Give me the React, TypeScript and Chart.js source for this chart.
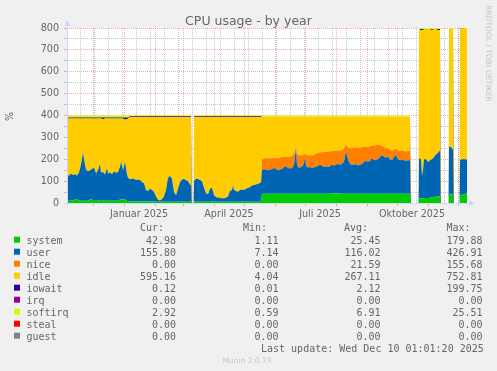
import React, { useEffect, useRef } from 'react';
import { Chart, registerables } from 'chart.js';

Chart.register(...registerables);

// x positions: days relative to 1 Jan 2025 (pairs of zero rows mark periods without data)
const days = [
  -57, -55, -53, -51, -49, -47, -45, -43, -41, -40, -38, -36, -34, -32, -30, -28, -26, -24, -23, -21, -19, -17, -16, -14, -12, -10, -8, -6, -4, -3, -1, 1, 3, 4,
  6, 8, 10, 12, 14, 16, 18, 20, 22, 24, 26, 28, 30,
  32, 34, 36, 38, 40, 42, 44, 46, 48, 50, 52, 54, 56, 58, 60, 62, 64, 66,
  67,
  67.5, 69.5,
  70, 72, 74, 76, 78, 80, 82, 84, 86, 88, 90, 92, 94, 96, 98, 100, 102, 104, 106, 108,
  109, 110, 112, 114, 116, 118, 120, 122, 124, 126, 128, 130, 132, 134, 136, 137,
  138, 140, 142, 144, 146, 148, 150, 152, 154, 156, 158, 160, 162, 164, 166, 168, 170,
  172, 173, 175, 177, 179, 181, 182,
  184, 186, 188, 190, 192, 194, 196, 198, 200, 202, 204, 206, 208, 210, 212, 214, 216, 218, 220, 222, 224, 226, 228, 230, 232, 234,
  236, 238, 240, 242, 244, 246, 248, 250, 252, 254, 256, 258, 260, 262, 264, 266, 268, 270, 272, 274, 276, 278, 280, 282, 284, 286,
  286.5, 294.5,
  295, 297, 298, 299, 300, 302, 304, 306, 308, 310, 312, 314, 316,
  316.5, 324.5,
  325, 327, 329,
  329.5, 335.5,
  336, 338, 340, 343,
];

const system = [
  10, 10, 10, 12, 16, 16, 10, 10, 10, 10, 10, 10, 16, 16, 10, 10, 10, 14, 14, 14, 10, 10, 10, 10, 10, 10, 10, 10, 16, 16, 16, 16, 10, 8,
  8, 8, 8, 7, 7, 7, 7, 7, 7, 7, 7, 7, 7,
  6, 6, 6, 6, 6, 6, 6, 6, 6, 6, 6, 6, 6, 6, 6, 6, 6, 6,
  6,
  0, 0,
  8, 6, 6, 6, 6, 6, 6, 6, 6, 6, 6, 6, 6, 6, 6, 6, 6, 6, 6, 6,
  6, 6, 6, 6, 6, 6, 6, 6, 6, 6, 6, 6, 6, 6, 6, 6,
  42, 42, 42, 42, 42, 42, 42, 42, 42, 42, 42, 42, 42, 42, 42, 42, 42,
  42, 42, 42, 42, 42, 42, 42,
  42, 42, 42, 42, 42, 42, 42, 42, 42, 42, 42, 42, 44, 45, 45, 44, 42, 42, 42, 42, 42, 42, 42, 42, 42, 42,
  42, 42, 42, 42, 42, 42, 42, 42, 42, 42, 42, 42, 42, 42, 42, 42, 42, 42, 42, 42, 42, 42, 42, 42, 42, 42,
  0, 0,
  22, 22, 22, 22, 22, 23, 23, 24, 25, 28, 29, 30, 30,
  0, 0,
  38, 40, 40,
  0, 0,
  36, 38, 41, 43,
];

const user = [
  120, 115, 125, 116, 116, 110, 130, 165, 222, 190, 142, 135, 134, 139, 152, 125, 140, 164, 126, 128, 120, 150, 125, 130, 122, 135, 128, 132, 149, 174, 134, 172, 120, 107,
  100, 104, 102, 98, 101, 98, 88, 83, 53, 48, 58, 53, 43,
  24, 9, 6, 12, 24, 54, 109, 119, 104, 44, 29, 59, 89, 102, 104, 99, 94, 79,
  74,
  0, 0,
  92, 106, 104, 99, 94, 64, 39, 34, 59, 64, 29, 22, 18, 16, 16, 16, 18, 24, 49, 54,
  76, 54, 49, 46, 54, 56, 54, 59, 64, 66, 74, 76, 79, 82, 86, 89,
  108, 113, 110, 108, 110, 113, 118, 113, 108, 111, 113, 123, 126, 118, 116, 118, 133,
  208, 133, 118, 123, 128, 163, 128,
  120, 123, 118, 121, 123, 128, 133, 128, 123, 126, 123, 126, 131, 127, 130, 134, 133, 138, 148, 193, 158, 136, 133, 133, 136, 130,
  133, 136, 148, 150, 148, 150, 163, 153, 156, 158, 168, 178, 168, 166, 170, 158, 153, 168, 178, 158, 153, 156, 153, 151, 153, 153,
  0, 0,
  183, 178, 103, 128, 178, 177, 165, 171, 175, 182, 193, 200, 210,
  0, 0,
  222, 215, 205,
  0, 0,
  159, 162, 159, 156,
];

const nice = [
  0, 0, 0, 0, 0, 0, 0, 0, 0, 0, 0, 0, 0, 0, 0, 0, 0, 0, 0, 0, 0, 0, 0, 0, 0, 0, 0, 0, 0, 0, 0, 0, 0, 0,
  0, 0, 0, 0, 0, 0, 0, 0, 0, 0, 0, 0, 0,
  0, 0, 0, 0, 0, 0, 0, 0, 0, 0, 0, 0, 0, 0, 0, 0, 0, 0,
  0,
  0, 0,
  0, 0, 0, 0, 0, 0, 0, 0, 0, 0, 0, 0, 0, 5, 2, 0, 0, 0, 0, 0,
  0, 0, 0, 0, 0, 0, 0, 0, 0, 0, 0, 0, 0, 0, 0, 0,
  50, 50, 53, 55, 51, 50, 46, 50, 55, 55, 55, 47, 44, 52, 54, 55, 50,
  5, 50, 58, 53, 50, 20, 50,
  56, 55, 58, 57, 60, 60, 57, 62, 69, 67, 70, 68, 63, 66, 65, 62, 65, 62, 60, 30, 55, 74, 75, 80, 77, 80,
  80, 77, 68, 66, 65, 68, 57, 67, 67, 66, 55, 42, 45, 42, 38, 45, 45, 35, 30, 40, 43, 42, 43, 43, 43, 42,
  0, 0,
  0, 0, 0, 0, 0, 0, 0, 0, 0, 0, 0, 0, 0,
  0, 0,
  0, 0, 0,
  0, 0,
  0, 0, 0, 0,
];

const idle = [
  256, 261, 251, 258, 254, 260, 246, 211, 154, 186, 234, 241, 236, 231, 224, 251, 236, 208, 246, 241, 256, 226, 251, 246, 254, 241, 248, 244, 221, 196, 236, 193, 253, 271,
  285, 281, 283, 288, 285, 288, 298, 303, 333, 338, 328, 333, 343,
  363, 378, 381, 375, 363, 333, 278, 268, 283, 341, 358, 328, 298, 283, 283, 288, 293, 308,
  313,
  0, 0,
  293, 281, 283, 288, 293, 323, 348, 353, 328, 323, 358, 365, 369, 366, 369, 371, 369, 363, 338, 333,
  311, 333, 338, 341, 333, 331, 333, 328, 323, 321, 311, 311, 308, 305, 301, 298,
  195, 190, 190, 190, 192, 190, 189, 190, 190, 187, 185, 183, 183, 183, 183, 180, 170,
  140, 170, 177, 177, 175, 170, 175,
  177, 175, 177, 175, 170, 165, 163, 163, 161, 160, 160, 159, 157, 157, 155, 155, 155, 153, 145, 130, 140, 143, 145, 140, 140, 143,
  140, 140, 137, 137, 140, 135, 133, 133, 130, 129, 130, 133, 140, 145, 145, 150, 155, 150, 145, 155, 157, 155, 157, 159, 157, 158,
  0, 0,
  588, 591, 666, 641, 593, 593, 605, 598, 591, 583, 571, 561, 551,
  0, 0,
  534, 539, 549,
  0, 0,
  601, 597, 597, 598,
];

const iowait = [
  4.5, 4.5, 4.5, 4.5, 4.5, 4.5, 4.5, 4.5, 4.5, 4.5, 4.5, 4.5, 4.5, 4.5, 4.5, 4.5, 4.5, 4.5, 4.5, 7.5, 4.5, 4.5, 4.5, 4.5, 4.5, 4.5, 4.5, 4.5, 4.5, 4.5, 4.5, 9.5, 7.5, 4.5,
  4, 4, 4, 4, 4, 4, 4, 4, 4, 4, 4, 4, 4,
  4, 4, 4, 4, 4, 4, 4, 4, 4, 6, 4, 4, 4, 6, 4, 4, 4, 4,
  4,
  0, 0,
  4, 4, 4, 4, 4, 4, 4, 4, 4, 4, 4, 4, 4, 4, 4, 4, 4, 4, 4, 4,
  4, 4, 4, 4, 4, 4, 4, 4, 4, 4, 6, 4, 4, 4, 4, 4,
  1, 1, 1, 1, 1, 1, 1, 1, 1, 1, 1, 1, 1, 1, 1, 1, 1,
  1, 1, 1, 1, 1, 1, 1,
  1, 1, 1, 1, 1, 1, 1, 1, 1, 1, 1, 1, 1, 1, 1, 1, 1, 1, 1, 1, 1, 1, 1, 1, 1, 1,
  1, 1, 1, 1, 1, 1, 1, 1, 1, 1, 1, 1, 1, 1, 1, 1, 1, 1, 1, 1, 1, 1, 1, 1, 1, 1,
  0, 0,
  1, 5, 5, 5, 1, 1, 1, 1, 5, 1, 1, 5, 5,
  0, 0,
  1, 1, 1,
  0, 0,
  0.5, 0.5, 0.5, 0.12,
];

const softirq = [
  9.5, 9.5, 9.5, 9.5, 9.5, 9.5, 9.5, 9.5, 9.5, 9.5, 9.5, 9.5, 9.5, 9.5, 9.5, 9.5, 9.5, 9.5, 9.5, 9.5, 9.5, 9.5, 9.5, 9.5, 9.5, 9.5, 9.5, 9.5, 9.5, 9.5, 9.5, 9.5, 9.5, 9.5,
  3, 3, 3, 3, 3, 3, 3, 3, 3, 3, 3, 3, 3,
  3, 3, 3, 3, 3, 3, 3, 3, 3, 3, 3, 3, 3, 3, 3, 3, 3, 3,
  3,
  0, 0,
  3, 3, 3, 3, 3, 3, 3, 3, 3, 3, 3, 3, 3, 3, 3, 3, 3, 3, 3, 3,
  3, 3, 3, 3, 3, 3, 3, 3, 3, 3, 3, 3, 3, 3, 3, 3,
  4, 4, 4, 4, 4, 4, 4, 4, 4, 4, 4, 4, 4, 4, 4, 4, 4,
  4, 4, 4, 4, 4, 4, 4,
  4, 4, 4, 4, 4, 4, 4, 4, 4, 4, 4, 4, 4, 4, 4, 4, 4, 4, 4, 4, 4, 4, 4, 4, 4, 4,
  4, 4, 4, 4, 4, 4, 4, 4, 4, 4, 4, 4, 4, 4, 4, 4, 4, 4, 4, 4, 4, 4, 4, 4, 4, 4,
  0, 0,
  6, 4, 4, 4, 6, 6, 6, 6, 4, 6, 6, 4, 4,
  0, 0,
  5, 5, 5,
  0, 0,
  3, 3, 3, 2.92,
];

// axis ticks
const monthStartDays = [-31, 0, 31, 59, 90, 120, 151, 181, 212, 243, 273, 304, 334];
const monthLabels = ['', 'Januar 2025', '', '', 'April 2025', '', '', 'Juli 2025', '', '', 'Oktober 2025', '', ''];
const minorGridDays = [-44, -30, -16, -2, 12, 26, 40, 54, 68, 82, 96, 110, 124, 138, 152, 166, 180, 194, 208, 222, 236, 250, 264, 278, 292, 306, 320, 334];
const yGridValues = [0, 50, 100, 150, 200, 250, 300, 350, 400, 450, 500, 550, 600, 650, 700, 750, 800];

// legend table
const legendNames = ['system', 'user', 'nice', 'idle', 'iowait', 'irq', 'softirq', 'steal', 'guest'];
const legendColors = ['#00CC00', '#0066B3', '#FF8000', '#FFCC00', '#330099', '#990099', '#CCFF00', '#FF0000', '#808080'];
const curValues = ['42.98', '155.80', '0.00', '595.16', '0.12', '0.00', '2.92', '0.00', '0.00'];
const minValues = ['1.11', '7.14', '0.00', '4.04', '0.01', '0.00', '0.59', '0.00', '0.00'];
const avgValues = ['25.45', '116.02', '21.59', '267.11', '2.12', '0.00', '6.91', '0.00', '0.00'];
const maxValues = ['179.88', '426.91', '155.68', '752.81', '199.75', '0.00', '25.51', '0.00', '0.00'];

const MAJOR = 'rgba(225, 80, 80, 0.45)';
const MINOR = 'rgba(130, 130, 130, 0.45)';
const AXIS = '#CFD6F8';
const FONT_COLOR = '#666666';
const MONO = '"DejaVu Sans Mono", monospace';
const SANS = '"DejaVu Sans", sans-serif';

const rrdPlugin = {
  id: 'rrdLook',
  beforeDraw(chart: any) {
    const { ctx, chartArea: a } = chart;
    ctx.save();
    ctx.fillStyle = '#F0F0F0';
    ctx.fillRect(0, 0, chart.width, chart.height);
    ctx.fillStyle = '#FFFFFF';
    ctx.fillRect(a.left, a.top, a.right - a.left, a.bottom - a.top);
    ctx.restore();
  },
  afterDraw(chart: any) {
    const { ctx, chartArea: a } = chart;
    ctx.save();
    // axes
    ctx.strokeStyle = AXIS;
    ctx.fillStyle = AXIS;
    ctx.lineWidth = 1;
    const ax = Math.round(a.left) + 0.5;
    const ay = Math.round(a.bottom) + 0.5;
    ctx.beginPath();
    ctx.moveTo(ax, ay + 3);
    ctx.lineTo(ax, a.top - 3);
    ctx.moveTo(ax - 3, ay);
    ctx.lineTo(a.right + 3, ay);
    ctx.stroke();
    ctx.beginPath();
    ctx.moveTo(ax, a.top - 8);
    ctx.lineTo(ax - 3, a.top - 2);
    ctx.lineTo(ax + 3, a.top - 2);
    ctx.closePath();
    ctx.fill();
    ctx.beginPath();
    ctx.moveTo(a.right + 8, ay);
    ctx.lineTo(a.right + 2, ay - 3);
    ctx.lineTo(a.right + 2, ay + 3);
    ctx.closePath();
    ctx.fill();

    // title
    ctx.fillStyle = FONT_COLOR;
    ctx.font = '12.5px ' + SANS;
    ctx.textAlign = 'center';
    ctx.textBaseline = 'alphabetic';
    ctx.fillText('CPU usage - by year', chart.width / 2, 24.5);

    // y axis title
    ctx.save();
    ctx.translate(10.5, 116.5);
    ctx.rotate(-Math.PI / 2);
    ctx.font = '9.6px ' + SANS;
    ctx.textAlign = 'center';
    ctx.textBaseline = 'middle';
    ctx.fillText('%', 0, 0);
    ctx.restore();

    // vertical credit
    ctx.save();
    ctx.translate(488, 53.5);
    ctx.rotate(Math.PI / 2);
    ctx.fillStyle = '#C4C4C4';
    ctx.font = '7.5px ' + SANS;
    ctx.textAlign = 'center';
    ctx.textBaseline = 'middle';
    ctx.fillText('RRDTOOL / TOBI OETIKER', 0, 0);
    ctx.restore();

    // legend table
    ctx.font = '10px ' + MONO;
    ctx.fillStyle = FONT_COLOR;
    ctx.textAlign = 'left';
    ctx.textBaseline = 'alphabetic';
    ctx.fillText('Cur:', 140, 231);
    ctx.fillText('Min:', 243, 231);
    ctx.fillText('Avg:', 344, 231);
    ctx.fillText('Max:', 446.5, 231);
    for (let i = 0; i < legendNames.length; i++) {
      const base = 243.5 + i * 12;
      ctx.fillStyle = legendColors[i];
      ctx.fillRect(14, base - 6.8, 6, 6);
      ctx.fillStyle = FONT_COLOR;
      ctx.textAlign = 'left';
      ctx.fillText(legendNames[i], 26.5, base);
      ctx.textAlign = 'right';
      ctx.fillText(curValues[i], 176, base);
      ctx.fillText(minValues[i], 278.5, base);
      ctx.fillText(avgValues[i], 380.5, base);
      ctx.fillText(maxValues[i], 482.5, base);
    }
    ctx.textAlign = 'left';
    ctx.fillText('Last update: Wed Dec 10 01:01:20 2025', 261, 352);

    ctx.fillStyle = '#C8C8C8';
    ctx.font = '7.5px ' + SANS;
    ctx.textAlign = 'center';
    ctx.fillText('Munin 2.0.73', 247, 362.5);
    ctx.restore();
  },
};

export default function App() {
  const ref = useRef<HTMLCanvasElement>(null);

  useEffect(() => {
    const canvas = ref.current;
    if (!canvas) return;
    const mk = (arr: number[]) => days.map((d, i) => ({ x: d, y: arr[i] }));
    const ds = (label: string, arr: number[], color: string, fill: any) => ({
      label,
      data: mk(arr),
      backgroundColor: color,
      borderColor: 'rgba(0,0,0,0)',
      borderWidth: 0,
      fill,
      pointRadius: 0,
      pointHoverRadius: 0,
      tension: 0,
    });

    const chart = new Chart(canvas, {
      type: 'line',
      data: {
        datasets: [
          ds('system', system, '#00CC00', 'origin'),
          ds('user', user, '#0066B3', '-1'),
          ds('nice', nice, '#FF8000', '-1'),
          ds('idle', idle, '#FFCC00', '-1'),
          ds('iowait', iowait, '#330099', '-1'),
          ds('softirq', softirq, '#CCFF00', '-1'),
        ] as any,
      },
      options: {
        animation: false,
        responsive: false,
        devicePixelRatio: 1,
        events: [],
        layout: { padding: { top: 28, left: 0, right: 30, bottom: 148 } },
        plugins: {
          legend: { display: false },
          title: { display: false },
          tooltip: { enabled: false },
        },
        scales: {
          x: {
            type: 'linear',
            position: 'bottom',
            min: -57,
            max: 343,
            z: 1,
            afterBuildTicks: (s: any) => {
              s.ticks = monthStartDays.map((v) => ({ value: v }));
            },
            afterFit: (s: any) => {
              s.height = 20;
            },
            ticks: {
              autoSkip: false,
              maxRotation: 0,
              minRotation: 0,
              labelOffset: 15,
              padding: 3,
              color: FONT_COLOR,
              font: { size: 9.6, family: SANS },
              callback: (v: any) => {
                const i = monthStartDays.indexOf(Number(v));
                return i >= 0 ? monthLabels[i] : '';
              },
            },
            grid: { color: MAJOR, lineWidth: 1, drawTicks: true, tickLength: 3, tickColor: MAJOR },
            border: { display: false, dash: [1, 1] },
          },
          xMinor: {
            type: 'linear',
            position: 'top',
            min: -57,
            max: 343,
            z: 1,
            afterBuildTicks: (s: any) => {
              s.ticks = minorGridDays.map((v) => ({ value: v }));
            },
            afterFit: (s: any) => {
              s.height = 0;
            },
            ticks: { display: false },
            grid: { color: MINOR, lineWidth: 1, drawTicks: false },
            border: { display: false, dash: [1, 1] },
          },
          y: {
            type: 'linear',
            stacked: true,
            min: 0,
            max: 800,
            z: 1,
            afterBuildTicks: (s: any) => {
              s.ticks = yGridValues.map((v) => ({ value: v }));
            },
            afterFit: (s: any) => {
              s.width = 67;
            },
            ticks: {
              autoSkip: false,
              padding: 5,
              color: FONT_COLOR,
              font: { size: 9.6, family: SANS },
              callback: (v: any) => (Number(v) % 100 === 0 ? String(v) : ''),
            },
            grid: {
              color: (c: any) => (c.tick && c.tick.value % 100 === 0 ? MAJOR : MINOR),
              tickColor: (c: any) => (c.tick && c.tick.value % 100 === 0 ? MAJOR : MINOR),
              lineWidth: 1,
              drawTicks: true,
              tickLength: 3,
            },
            border: { display: false, dash: [1, 1] },
          },
        },
      } as any,
      plugins: [rrdPlugin],
    });
    return () => chart.destroy();
  }, []);

  return (
    <div style={{ position: 'fixed', left: 0, top: 0, width: 497, height: 371, background: '#F0F0F0' }}>
      <canvas ref={ref} width={497} height={371} style={{ display: 'block', width: 497, height: 371 }} />
    </div>
  );
}
